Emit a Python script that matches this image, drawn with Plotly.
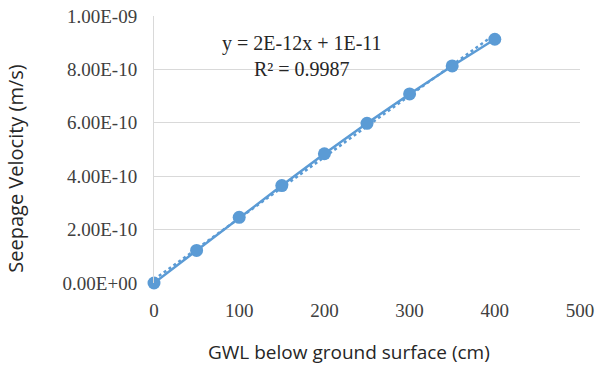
import numpy as np
import plotly.graph_objects as go

gwl_cm = [0, 50, 100, 150, 200, 250, 300, 350, 400]
seepage_velocity = [0.0, 1.22e-10, 2.46e-10, 3.65e-10, 4.84e-10, 5.98e-10, 7.08e-10, 8.13e-10, 9.13e-10]
y_tick_vals = [0, 2e-10, 4e-10, 6e-10, 8e-10, 1e-9]
y_tick_text = ["0.00E+00", "2.00E-10", "4.00E-10", "6.00E-10", "8.00E-10", "1.00E-09"]
x_tick_vals = [0, 100, 200, 300, 400, 500]
equation_lines = ["y = 2E-12x + 1E-11", "R² = 0.9987"]

blue = "#5b9bd5"
slope, intercept = np.polyfit(gwl_cm, seepage_velocity, 1)
trend_x = [gwl_cm[0], gwl_cm[-1]]
trend_y = [slope * v + intercept for v in trend_x]

fig = go.Figure()
fig.add_trace(go.Scatter(x=trend_x, y=trend_y, mode="lines",
                         line=dict(color=blue, width=2.5, dash="dot"),
                         showlegend=False, hoverinfo="skip", cliponaxis=False))
fig.add_trace(go.Scatter(x=gwl_cm, y=seepage_velocity, mode="lines+markers",
                         line=dict(color=blue, width=2.5),
                         marker=dict(color=blue, size=13),
                         showlegend=False, cliponaxis=False))

fig.add_annotation(x=0.347, y=0.85, xref="paper", yref="paper",
                   text="<br>".join(equation_lines), showarrow=False,
                   font=dict(family="Liberation Serif", size=20, color="#262626"),
                   align="center", xanchor="center", yanchor="middle")

fig.add_annotation(x=0.458, y=-0.257, xref="paper", yref="paper",
                   text="GWL below ground surface (cm)", showarrow=False,
                   font=dict(family="Open Sans", size=19, color="#262626"),
                   xanchor="center", yanchor="middle")
fig.add_annotation(x=-0.325, y=0.43, xref="paper", yref="paper",
                   text="Seepage Velocity (m/s)", showarrow=False, textangle=-90,
                   font=dict(family="Open Sans", size=20, color="#262626"),
                   xanchor="center", yanchor="middle")

fig.update_layout(
    width=597, height=365,
    margin=dict(l=154, r=17, t=16, b=82, autoexpand=False),
    paper_bgcolor="white", plot_bgcolor="white",
    xaxis=dict(range=[0, 500], tickvals=x_tick_vals, showgrid=False, zeroline=False,
               showline=False, ticks="", automargin=False, ticklabelstandoff=14,
               ticklabeloverflow="allow",
               tickfont=dict(family="Liberation Serif", size=19, color="#404040")),
    yaxis=dict(range=[0, 1e-9], tickvals=y_tick_vals, ticktext=y_tick_text,
               showgrid=True, gridcolor="#d9d9d9", gridwidth=1, zeroline=False,
               showline=True, linecolor="#d9d9d9", linewidth=1, ticks="",
               automargin=False, ticklabelstandoff=12, ticklabeloverflow="allow",
               tickfont=dict(family="Liberation Serif", size=19, color="#404040")),
)

# remove the page's default body margin so the figure fills the window exactly
fig.write_html("out.html", config={"displayModeBar": False},
               post_script="document.body.style.margin='0';")
